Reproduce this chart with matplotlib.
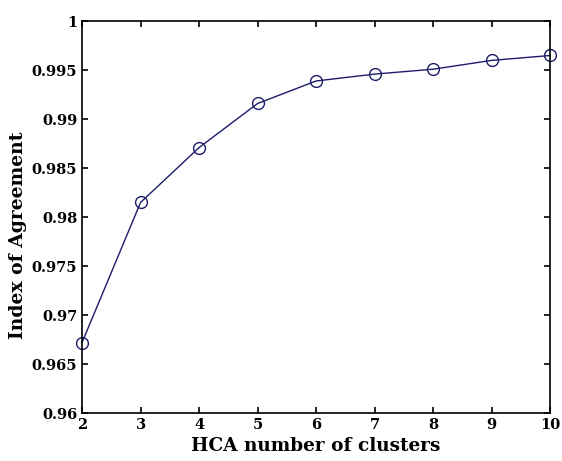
import numpy as np
import matplotlib.pyplot as plt

plt.rcParams.update({
    "font.family": "DejaVu Serif",
    "font.weight": "bold",
    "xtick.direction": "in",
    "ytick.direction": "in",
    "xtick.top": True,
    "ytick.right": True,
})

clusters = [2, 3, 4, 5, 6, 7, 8, 9, 10]
agreement = [0.9672, 0.9815, 0.9871, 0.9916, 0.9939, 0.9946, 0.9951, 0.9960, 0.9965]
y_ticks = [0.96, 0.965, 0.97, 0.975, 0.98, 0.985, 0.99, 0.995, 1.0]
y_tick_labels = ['0.96', '0.965', '0.97', '0.975', '0.98', '0.985', '0.99', '0.995', '1']


def main():
    fig = plt.figure(figsize=(5.62, 4.61), dpi=100)
    ax = fig.add_axes([0.146, 0.104, 0.833, 0.850])
    ax.plot(clusters, agreement, color='#1c1c6a', linewidth=1.0,
            marker='o', markersize=8.5, markerfacecolor='none',
            markeredgecolor='#1c1c6a', markeredgewidth=1.0, clip_on=False)
    ax.set_xlim(2, 10)
    ax.set_ylim(0.96, 1.0)
    ax.set_xticks(clusters)
    ax.set_yticks(y_ticks)
    ax.set_yticklabels(y_tick_labels)
    ax.tick_params(labelsize=10.5, length=4.5, width=1.2)
    for s in ax.spines.values():
        s.set_linewidth(1.2)
    ax.set_xlabel('HCA number of clusters', fontsize=13.3, fontweight='bold', labelpad=4)
    ax.set_ylabel('Index of Agreement', fontsize=13.5, fontweight='bold')
    ax.yaxis.set_label_coords(-0.118, 0.455)
    fig.savefig('out.png', dpi=100)


if __name__ == "__main__":
    main()
